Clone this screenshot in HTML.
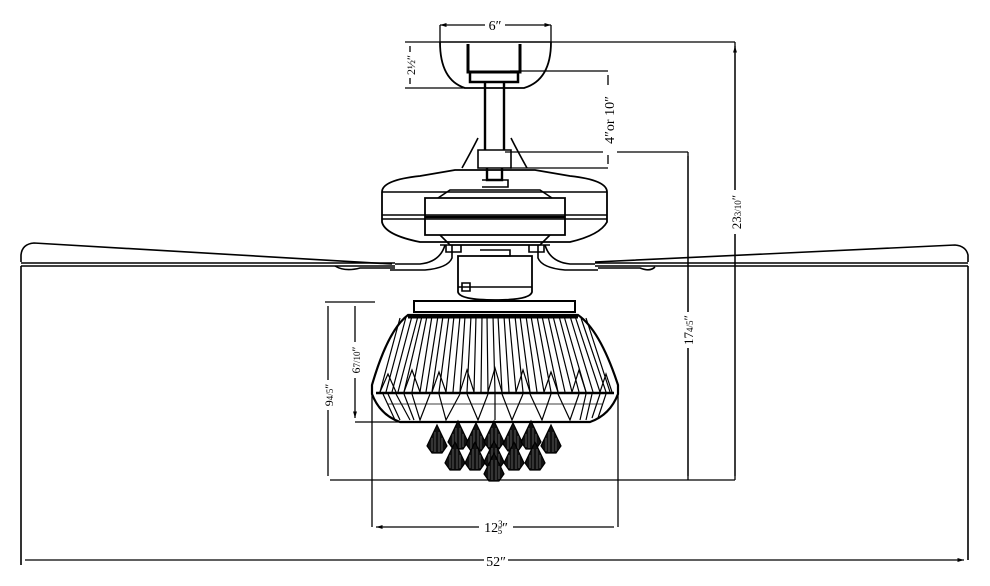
<!DOCTYPE html>
<html><head><style>html,body{margin:0;padding:0;background:#fff}svg{display:block}</style></head>
<body>
<svg width="990" height="586" viewBox="0 0 990 586" xmlns="http://www.w3.org/2000/svg" font-family="Liberation Serif, serif">
<defs>
<marker id="a" viewBox="0 0 10 10" refX="10" refY="5" markerWidth="7" markerHeight="5" orient="auto-start-reverse"><path d="M0,2 L10,5 L0,8z" fill="#000"/></marker>
<g id="c"><path d="M0,-13 L-10,8 L-5,15 L5,15 L10,8 Z" fill="#111" stroke="#000" stroke-width="1.2"/><path d="M-5,0 L-5,13 M-2,-6 L-2,14 M2,-6 L2,14 M5,0 L5,13" stroke="#777" stroke-width=".7"/></g>
</defs>
<g fill="none" stroke="#000" stroke-width="1.6">
<!-- blades -->
<path d="M21,262 L21,255 Q22,244 34,243 L392,264"/>
<path d="M21,263 L395,263 M21,266 L395,266"/>
<path d="M21,266 L21,565"/>
<path d="M968,262 L968,255 Q966,246 955,245 L595,262"/>
<path d="M595,263 L968,263 M595,266 L968,266"/>
<path d="M968,266 L968,560"/>
<path d="M335,266 Q345,272 360,268 L395,268 M598,268 L640,268 Q650,272 655,267"/>
<!-- canopy -->
<path d="M440,42 L551,42"/>
<path d="M440,42 Q440,80 465,88 L524,88 Q551,80 551,42" stroke-width="1.8"/>
<path d="M468,44 L468,72 L520,72 L520,44" stroke-width="3"/>
<path d="M470,72 L470,82 L518,82 L518,72" stroke-width="2.5"/>
<!-- downrod -->
<path d="M485,82 L485,150 M504,82 L504,150" stroke-width="2.4"/>
<path d="M478,138 Q472,150 462,168 M511,138 Q517,150 527,168"/>
<path d="M478,150 L511,150 L511,168 L478,168z"/>
<path d="M487,168 L487,180 L502,180 L502,168" stroke-width="2.4"/>
<path d="M482,180 L508,180 L508,187 L482,187"/>
<!-- motor -->
<path d="M382,192 Q382,180 420,176 L455,170 L535,170 L570,176 Q607,180 607,192 L607,222 Q600,235 570,242 L420,242 Q385,235 382,222 Z" stroke-width="1.8"/>
<path d="M382,192 L607,192 M382,215 L607,215 M382,219 L607,219"/>
<path d="M425,198 L565,198 L565,235 L425,235 Z" stroke-width="1.8"/>
<path d="M425,217 L565,217" stroke-width="2.6"/>
<path d="M438,198 L450,190 L540,190 L552,198 M440,235 L450,245 L540,245 L550,235"/>
<!-- blade irons -->
<path d="M452,245 L452,258 Q448,268 425,270 L390,270 M445,245 Q440,262 420,264 L395,264"/>
<path d="M538,245 L538,258 Q542,268 565,270 L598,270 M545,245 Q550,262 570,264 L595,264"/>
<path d="M440,245 L550,245 M446,245 L446,252 L461,252 L461,245 M529,245 L529,252 L544,252 L544,245"/>
<!-- switch housing -->
<path d="M480,250 L510,250 L510,256 L480,256"/>
<path d="M458,256 L532,256 L532,292 Q530,300 495,300 Q460,300 458,292 Z" stroke-width="1.8"/>
<path d="M458,287 L532,287 M462,283 L470,283 L470,291 L462,291z"/>
<!-- plate -->
<path d="M414,301 L575,301 L575,312 L414,312 Z" stroke-width="2"/>
<!-- shade -->
<path d="M408,315 L578,315 Q600,330 618,385 L618,394 Q610,415 590,422 L400,422 Q380,415 372,394 L372,385 Q388,330 408,315 Z" stroke-width="2.2"/>
<path d="M376,393 L614,393" stroke-width="2.4"/>
<path d="M408,317 L578,317" stroke-width="3"/>
<g stroke-width="1.2">
<path d="M400,318 L380,392 M406,317 L386,392 M412,316 L392,392 M418,316 L398,392 M422,316 L404,392 M427,316 L412,392 M432,316 L420,392 M438,316 L426,392 M443,316 L432,392 M449,316 L439,392 M454,316 L446,392 M460,316 L453,392 M465,316 L460,392 M471,316 L467,392 M476,316 L474,392 M482,316 L481,392 M487,316 L488,392 M493,316 L495,392 M498,316 L502,392 M504,316 L509,392 M509,316 L516,392 M515,316 L523,392 M520,316 L530,392 M526,316 L537,392 M531,316 L544,392 M537,316 L551,392 M542,316 L558,392 M548,316 L565,392 M553,316 L572,392 M559,316 L579,392 M564,316 L586,392 M570,316 L593,392 M575,316 L600,392 M581,318 L606,392 M586,318 L610,392"/>
<path d="M380,392 L388,374 L396,392 M404,392 L412,370 L420,392 M432,392 L439,372 L446,392 M460,392 L467,370 L474,392 M488,392 L495,368 L502,392 M516,392 L523,370 L530,392 M544,392 L551,372 L558,392 M572,392 L579,370 L586,392 M600,392 L606,374 L612,392"/>
<path d="M383,394 L395,420 M388,394 L400,420 M396,394 L410,420 M404,394 L414,420 M412,394 L420,420 L430,394 M439,394 L446,420 L460,394 M467,394 L478,420 L488,394 M495,394 L495,420 M502,394 L512,420 L523,394 M530,394 L542,420 L551,394 M558,394 L570,420 L579,394 M586,394 L580,420 M592,394 L586,420 M600,394 L592,418 M606,394 L598,418"/>
<path d="M388,404 L602,404" stroke-width=".8"/>
</g>
<!-- dimensions -->
<g stroke-width="1.3">
<path d="M551,42 L735,42 M735,42 L735,480 M330,480 L735,480"/>
<path d="M505,152 L688,152 M688,152 L688,480" />
<path d="M510,71 L608,71 M510,168 L608,168"/>
<path d="M405,42 L440,42 M405,88 L465,88"/>
<path d="M440,25 L440,42 M551,25 L551,42"/>
<path d="M325,302 L375,302 M355,422 L420,422"/>
<path d="M372,393 L372,527 M618,393 L618,527"/>
</g>
<path d="M440,25 L485,25 M504,25 L551,25" stroke-width="1.3" marker-start="url(#a)" marker-end="url(#a)"/>
<path d="M735,46 L735,476 M688,156 L688,476 M410,46 L410,84 M608,75 L608,164 M328,306 L328,476 M355,306 L355,418" stroke-width="1.3" marker-start="url(#a)" marker-end="url(#a)"/>
<path d="M376,527 L614,527 M25,560 L964,560" stroke-width="1.3" marker-start="url(#a)" marker-end="url(#a)"/>
</g>
<!-- crystals -->
<use href="#c" x="437" y="438"/><use href="#c" x="458" y="434"/><use href="#c" x="476" y="436"/>
<use href="#c" x="494" y="434"/><use href="#c" x="513" y="436"/><use href="#c" x="531" y="434"/><use href="#c" x="551" y="438"/>
<use href="#c" x="455" y="455"/><use href="#c" x="475" y="455"/><use href="#c" x="494" y="454"/><use href="#c" x="514" y="455"/><use href="#c" x="535" y="455"/>
<use href="#c" x="494" y="466"/>
<!-- labels -->
<g font-size="14" fill="#000">
<rect x="485" y="17" width="20" height="14" fill="#fff"/>
<text x="495" y="30" text-anchor="middle">6″</text>
<rect x="479" y="519" width="34" height="16" fill="#fff"/>
<text x="496" y="532" text-anchor="middle">12<tspan font-size="9" dy="-5">3</tspan><tspan font-size="9" dx="-5" dy="7">5</tspan><tspan dy="-2">″</tspan></text>
<rect x="484" y="552" width="24" height="16" fill="#fff"/>
<text x="496" y="566" text-anchor="middle">52″</text>
<rect x="603" y="85" width="14" height="70" fill="#fff"/>
<text transform="translate(614,120) rotate(-90)" text-anchor="middle" font-size="14">4″or 10″</text>
<rect x="729" y="190" width="14" height="44" fill="#fff"/>
<text transform="translate(741,212) rotate(-90)" text-anchor="middle" font-size="13">23<tspan font-size="9">3/10</tspan>″</text>
<rect x="682" y="312" width="14" height="36" fill="#fff"/>
<text transform="translate(693,330) rotate(-90)" text-anchor="middle" font-size="13">17<tspan font-size="9">4/5</tspan>″</text>
<rect x="404" y="52" width="13" height="26" fill="#fff"/>
<text transform="translate(415,65) rotate(-90)" text-anchor="middle" font-size="12">2½″</text>
<rect x="349" y="342" width="13" height="36" fill="#fff"/>
<text transform="translate(360,360) rotate(-90)" text-anchor="middle" font-size="12">6<tspan font-size="9">7/10</tspan>″</text>
<rect x="322" y="380" width="13" height="30" fill="#fff"/>
<text transform="translate(333,395) rotate(-90)" text-anchor="middle" font-size="12">9<tspan font-size="9">4/5</tspan>″</text>
</g>
</svg>
</body></html>
